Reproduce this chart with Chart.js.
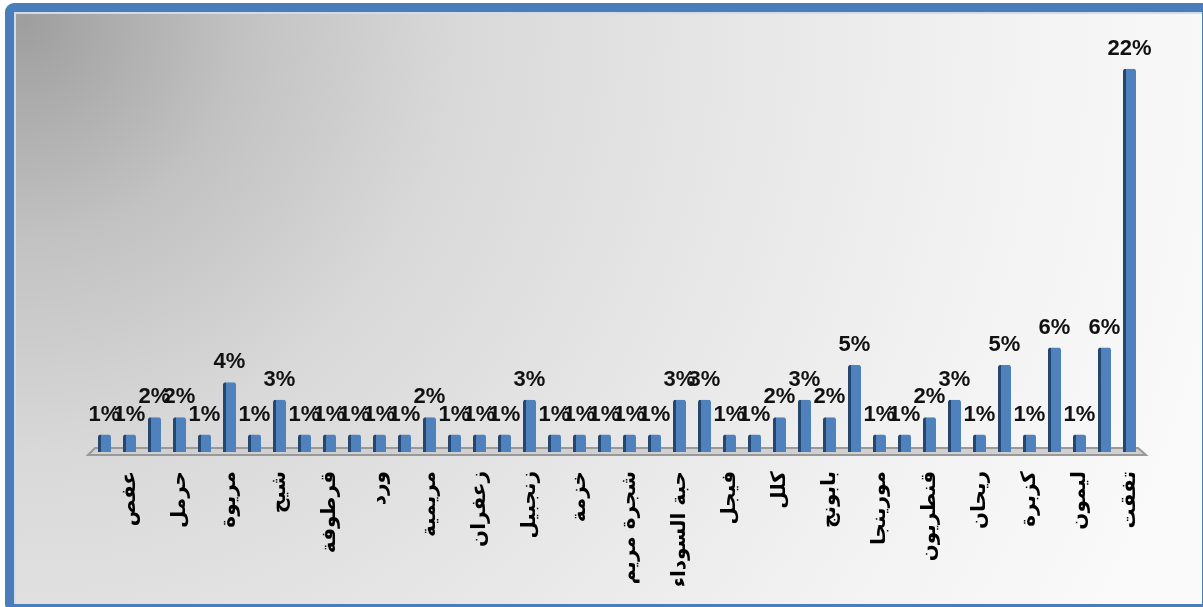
<!DOCTYPE html>
<html lang="ar">
<head>
<meta charset="utf-8">
<title>نسب النباتات</title>
<script src="https://cdn.jsdelivr.net/npm/chart.js"></script>
<style>
  html, body { margin: 0; padding: 0; width: 1203px; height: 607px; overflow: hidden; background: #fff; }
  #marco {
    position: absolute; left: 5px; top: 3px; width: 1206px; height: 610px;
    box-sizing: border-box; border: 9px solid #4a7ebb; border-radius: 9px;
    box-shadow: inset 2px 2px 0 #cfdcee;
    background: radial-gradient(circle at 8px 8px, #9e9e9e 0px, #c2c2c2 220px, #d9d9d9 440px, #e6e6e6 700px, #f2f2f2 980px, #fafafa 1250px);
  }
  #wrap { position: absolute; left: 0; top: 0; width: 1203px; height: 607px; }
</style>
</head>
<body>
<div id="marco"></div>
<div id="wrap"><canvas id="grafico" width="1203" height="607"></canvas></div>
<script>
// nombres (solo se rotulan las barras pares)
const nombres = [
  '', 'عفص', '', 'حرمل', '', 'مريوة', '', 'شيح', '', 'قرطوفة',
  '', 'ورد', '', 'مريمية', '', 'زعفران', '', 'زنجبيل', '', 'خزمة',
  '', 'شجرة مريم', '', 'حبة السوداء', '', 'فيجل', '', 'كلل', '', 'بابونج',
  '', 'مورينجا', '', 'قنطريون', '', 'ريحان', '', 'كزبرة', '', 'ليمون',
  '', 'تفقت'
];
// porcentajes
const porcentajes = [
  1, 1, 2, 2, 1, 4, 1, 3, 1, 1,
  1, 1, 1, 2, 1, 1, 1, 3, 1, 1,
  1, 1, 1, 3, 3, 1, 1, 2, 3, 2,
  5, 1, 1, 2, 3, 1, 5, 1, 6, 1,
  6, 22
];

// piso gris bajo las barras
const piso = {
  id: 'piso',
  beforeDatasetsDraw(chart) {
    const { ctx, chartArea: a } = chart;
    ctx.save();
    ctx.beginPath();
    ctx.moveTo(a.left + 3, a.bottom - 4);
    ctx.lineTo(a.right - 4, a.bottom - 4);
    ctx.lineTo(a.right + 4, a.bottom + 3);
    ctx.lineTo(a.left - 4, a.bottom + 3);
    ctx.closePath();
    ctx.fillStyle = '#d0d0d0';
    ctx.fill();
    ctx.lineWidth = 2;
    ctx.strokeStyle = '#999';
    ctx.stroke();
    ctx.restore();
  }
};

// etiqueta de porcentaje encima de cada barra
const etiquetas = {
  id: 'etiquetas',
  afterDatasetsDraw(chart) {
    const { ctx } = chart;
    const meta = chart.getDatasetMeta(0);
    ctx.save();
    ctx.font = 'bold 22px "Liberation Sans", Arial, sans-serif';
    ctx.fillStyle = '#111';
    ctx.textAlign = 'center';
    ctx.textBaseline = 'alphabetic';
    meta.data.forEach((bar, i) => {
      ctx.fillText(porcentajes[i] + '%', bar.x, bar.y - 14);
    });
    ctx.restore();
  }
};

new Chart(document.getElementById('grafico').getContext('2d'), {
  type: 'bar',
  data: {
    labels: nombres,
    datasets: [{
      data: porcentajes,
      backgroundColor: '#4f81bd',
      borderColor: '#24466f',
      borderWidth: { left: 3, right: 0, top: 0, bottom: 0 },
      borderRadius: { topLeft: 2, topRight: 2 },
      borderSkipped: 'bottom',
      barPercentage: 0.52,
      categoryPercentage: 1
    }]
  },
  options: {
    responsive: false,
    maintainAspectRatio: false,
    animation: false,
    devicePixelRatio: 1,
    layout: { padding: { left: 92, right: 61, top: 34, bottom: 0 } },
    plugins: { legend: { display: false }, tooltip: { enabled: false }, title: { display: false } },
    scales: {
      x: {
        grid: { display: false, drawTicks: false },
        border: { display: false },
        afterFit: s => { s.height = 155; },
        ticks: {
          autoSkip: false,
          minRotation: 90,
          maxRotation: 90,
          padding: 19,
          color: '#000',
          font: { family: '"DejaVu Sans", sans-serif', size: 20, weight: 'bold' }
        }
      },
      y: { display: false, min: 0, max: 24 }
    }
  },
  plugins: [piso, etiquetas]
});
</script>
</body>
</html>
